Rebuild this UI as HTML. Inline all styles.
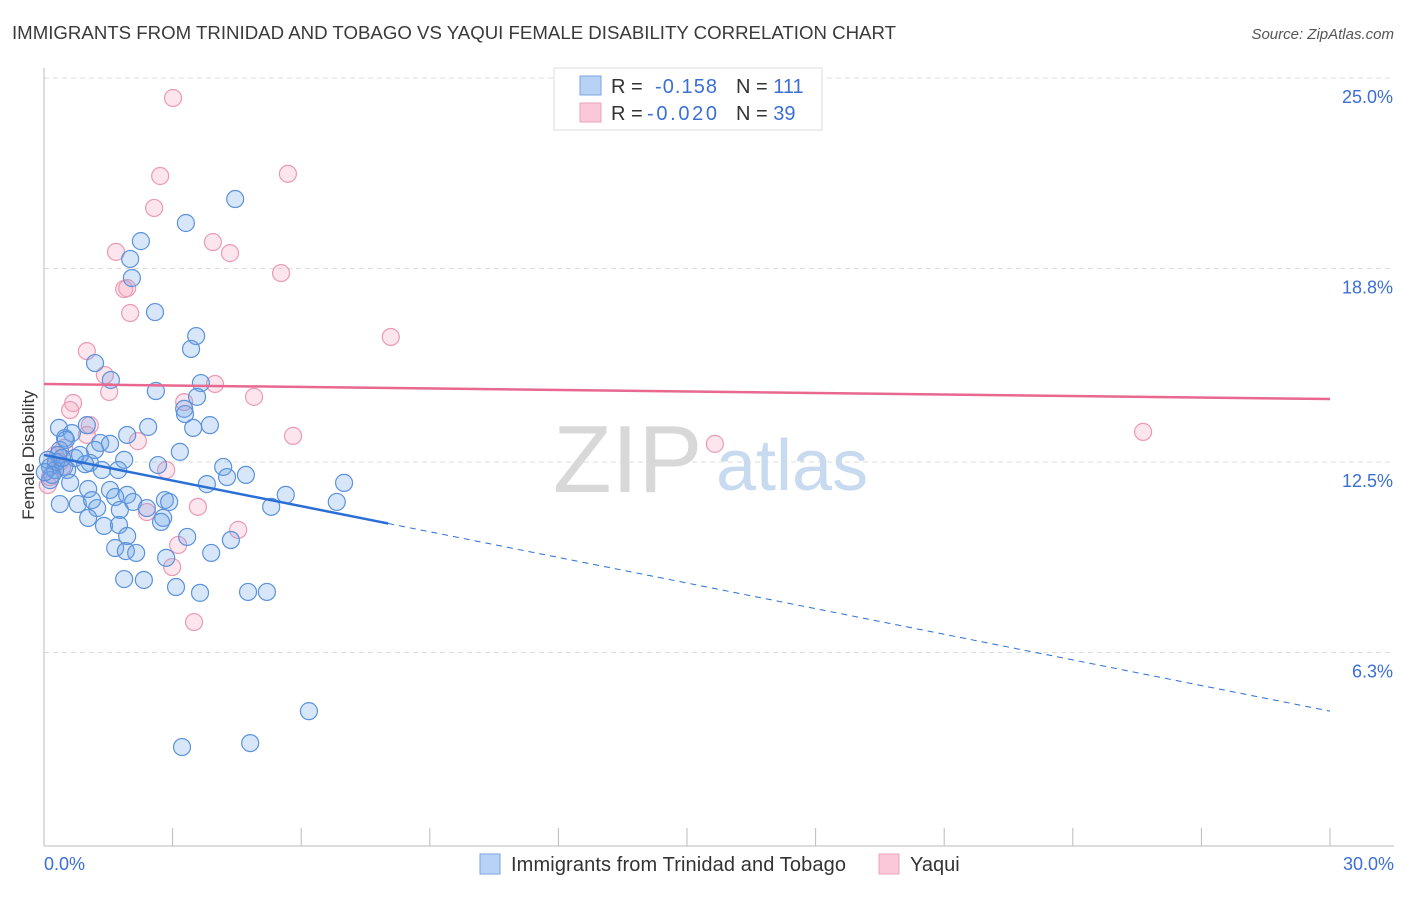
<!DOCTYPE html>
<html><head><meta charset="utf-8"><style>
body{margin:0;background:#fff;font-family:"Liberation Sans",sans-serif}
svg text{font-family:"Liberation Sans",sans-serif}
</style></head><body>
<svg width="1406" height="892" xmlns="http://www.w3.org/2000/svg">
<text x="12" y="39" font-size="18" fill="#3a3a3a" textLength="884" lengthAdjust="spacingAndGlyphs">IMMIGRANTS FROM TRINIDAD AND TOBAGO VS YAQUI FEMALE DISABILITY CORRELATION CHART</text>
<text x="1394" y="39" font-size="15" fill="#555" text-anchor="end" font-style="italic">Source: ZipAtlas.com</text>
<g id="grid"></g>
<g>
<text x="553" y="492" font-size="96" fill="#d8d8d8" font-family="Liberation Serif">ZIP</text>
<text x="716" y="490" font-size="72" fill="#c8daf0">atlas</text>
</g>
<g id="axes"></g>
<g id="pts"></g>
<g id="trends"></g>
<text transform="translate(34,455) rotate(-90)" font-size="17" fill="#333" text-anchor="middle">Female Disability</text>
<g>
<rect x="554" y="68" width="268" height="62" fill="#fff" stroke="#ddd"/>
<rect x="580" y="76" width="21" height="19" fill="#b8d2f5" stroke="#7aa6e0"/>
<rect x="580" y="103" width="21" height="19" fill="#fac8d8" stroke="#eba2bb"/>
<text x="611" y="93" font-size="20" fill="#333">R =</text>
<text x="655" y="93" font-size="20" fill="#3b6fd4" textLength="62">-0.158</text>
<text x="736" y="93" font-size="20" fill="#333">N = <tspan fill="#3b6fd4">111</tspan></text>
<text x="611" y="120" font-size="20" fill="#333">R =</text>
<text x="647" y="120" font-size="20" fill="#3b6fd4" textLength="70">-0.020</text>
<text x="736" y="120" font-size="20" fill="#333">N = <tspan fill="#3b6fd4">39</tspan></text>
</g>
<g>
<rect x="480" y="854" width="20" height="20" fill="#b8d2f5" stroke="#7aa6e0"/>
<text x="511" y="871" font-size="20" fill="#333" textLength="335">Immigrants from Trinidad and Tobago</text>
<rect x="879" y="854" width="20" height="20" fill="#fac8d8" stroke="#eba2bb"/>
<text x="910" y="871" font-size="20" fill="#333">Yaqui</text>
</g>
</svg>
<script>
const yTicks=[25.0,18.8,12.5,6.3];
const yTickLabels=["25.0%","18.8%","12.5%","6.3%"];
const xTickLabels=["0.0%","30.0%"];
const blueX=[4.46,3.31,2.26,2.01,2.05,2.59,3.55,3.43,1.19,1.56,2.61,3.66,3.57,3.27,3.29,3.87,3.48,2.43,1.00,0.35,0.65,0.49,1.31,1.94,1.54,1.19,3.17,0.33,0.72,1.07,1.87,2.66,0.14,0.47,0.96,1.35,1.73,4.18,4.71,4.27,3.80,0.14,0.61,1.03,1.54,1.94,0.37,0.79,1.12,1.66,2.08,2.82,2.92,5.64,5.30,6.83,7.00,2.78,2.40,1.24,1.03,1.77,1.40,1.75,1.94,2.73,4.36,3.34,1.66,1.91,2.15,2.85,3.90,1.87,2.33,3.08,3.64,4.76,5.20,6.18,3.22,4.81,0.54,0.26,0.28,0.19,0.37,0.84,0.51,0.09,0.02,0.42];
const blueY=[21.06,20.28,19.69,19.11,18.49,17.38,16.60,16.18,15.72,15.17,14.81,15.07,14.62,14.23,14.06,13.70,13.61,13.64,13.70,13.61,13.44,13.28,13.12,13.38,13.09,12.89,12.83,12.73,12.63,12.47,12.57,12.40,12.34,12.34,12.43,12.24,12.24,12.34,12.08,12.01,11.78,11.91,11.82,11.62,11.59,11.43,11.13,11.13,11.26,11.36,11.20,11.26,11.20,11.43,11.04,11.20,11.82,10.68,11.00,11.00,10.68,10.94,10.42,10.45,10.09,10.55,9.96,10.06,9.70,9.60,9.54,9.38,9.54,8.69,8.66,8.43,8.24,8.27,8.27,4.39,3.22,3.35,12.24,12.24,12.50,12.08,12.89,12.73,13.22,12.57,12.17,12.63];
const pinkX=[3.01,2.71,5.69,2.57,3.94,1.68,4.34,5.53,1.87,1.94,2.01,8.09,1.00,1.42,3.99,1.52,4.90,0.68,0.61,3.27,5.81,15.65,25.64,2.19,1.00,0.47,0.37,2.85,0.09,3.59,2.40,4.53,3.13,2.99,3.50,0.26,0.42,0.14,1.07];
const pinkY=[24.35,21.81,21.88,20.77,19.66,19.34,19.30,18.65,18.13,18.16,17.35,16.57,16.11,15.33,15.04,14.78,14.62,14.42,14.19,14.45,13.35,13.09,13.48,13.18,13.38,12.96,12.50,12.24,11.75,11.04,10.87,10.29,9.80,9.08,7.29,12.73,12.34,12.01,13.70];
const blueTrend=[12.73,4.39];
const blueSolidEnd=8.03;
const pinkTrend=[15.04,14.55];

const NS="http://www.w3.org/2000/svg";
const X0=44,X1=1330,Y0=846,Y25=78;
const sx=v=>X0+(v/30)*(X1-X0);
const sy=v=>Y0-(v/25)*(Y0-Y25);
function mk(tag,attrs,parent){const e=document.createElementNS(NS,tag);for(const k in attrs)e.setAttribute(k,attrs[k]);parent.appendChild(e);return e;}
const grid=document.getElementById('grid');
yTicks.forEach((t,i)=>{
  const l=mk('line',{x1:X0,x2:1394,y1:sy(t),y2:sy(t),stroke:'#ddd','stroke-dasharray':'5,4'},grid);
  
  
  const tx=mk('text',{x:1393,y:sy(t)+25,'font-size':18,fill:'#3b6fd4','text-anchor':'end'},grid);
  tx.textContent=yTickLabels[i];
  
  
});
const axes=document.getElementById('axes');
const ya=mk('line',{x1:X0,x2:X0,y1:68,y2:Y0,stroke:'#bbb'},axes);


const xa=mk('line',{x1:X0,x2:1394,y1:Y0,y2:Y0,stroke:'#bbb'},axes);


for(let i=1;i<=10;i++){
  const tk=mk('line',{x1:sx(i*3),x2:sx(i*3),y1:Y0-18,y2:Y0,stroke:'#bbb'},axes);
  
  
}
const xl0=mk('text',{x:44,y:870,'font-size':18,fill:'#3b6fd4'},axes);
xl0.textContent=xTickLabels[0];


const xl1=mk('text',{x:1394,y:870,'font-size':18,fill:'#3b6fd4','text-anchor':'end'},axes);
xl1.textContent=xTickLabels[1];


const pts=document.getElementById('pts');
pinkX.forEach((v,i)=>{
  const c=mk('circle',{cx:sx(v),cy:sy(pinkY[i]),r:8.5,fill:'rgba(246,168,192,0.3)',stroke:'#eb9ab5','stroke-width':1.2},pts);
  
  
});
blueX.forEach((v,i)=>{
  const c=mk('circle',{cx:sx(v),cy:sy(blueY[i]),r:8.5,fill:'rgba(110,165,235,0.28)',stroke:'#5b92dc','stroke-width':1.2},pts);
  
  
});
const tr=document.getElementById('trends');
const bAt=x=>blueTrend[0]+(blueTrend[1]-blueTrend[0])*x/30;
const b1=mk('line',{x1:sx(0),y1:sy(blueTrend[0]),x2:sx(blueSolidEnd),y2:sy(bAt(blueSolidEnd)),stroke:'#2a6fd6','stroke-width':2.5},tr);


const b2=mk('line',{x1:sx(blueSolidEnd),y1:sy(bAt(blueSolidEnd)),x2:sx(30),y2:sy(blueTrend[1]),stroke:'#2a6fd6','stroke-width':1,'stroke-dasharray':'6,5'},tr);


const p1=mk('line',{x1:sx(0),y1:sy(pinkTrend[0]),x2:sx(30),y2:sy(pinkTrend[1]),stroke:'#e8688f','stroke-width':2.5},tr);


</script>
</body></html>
